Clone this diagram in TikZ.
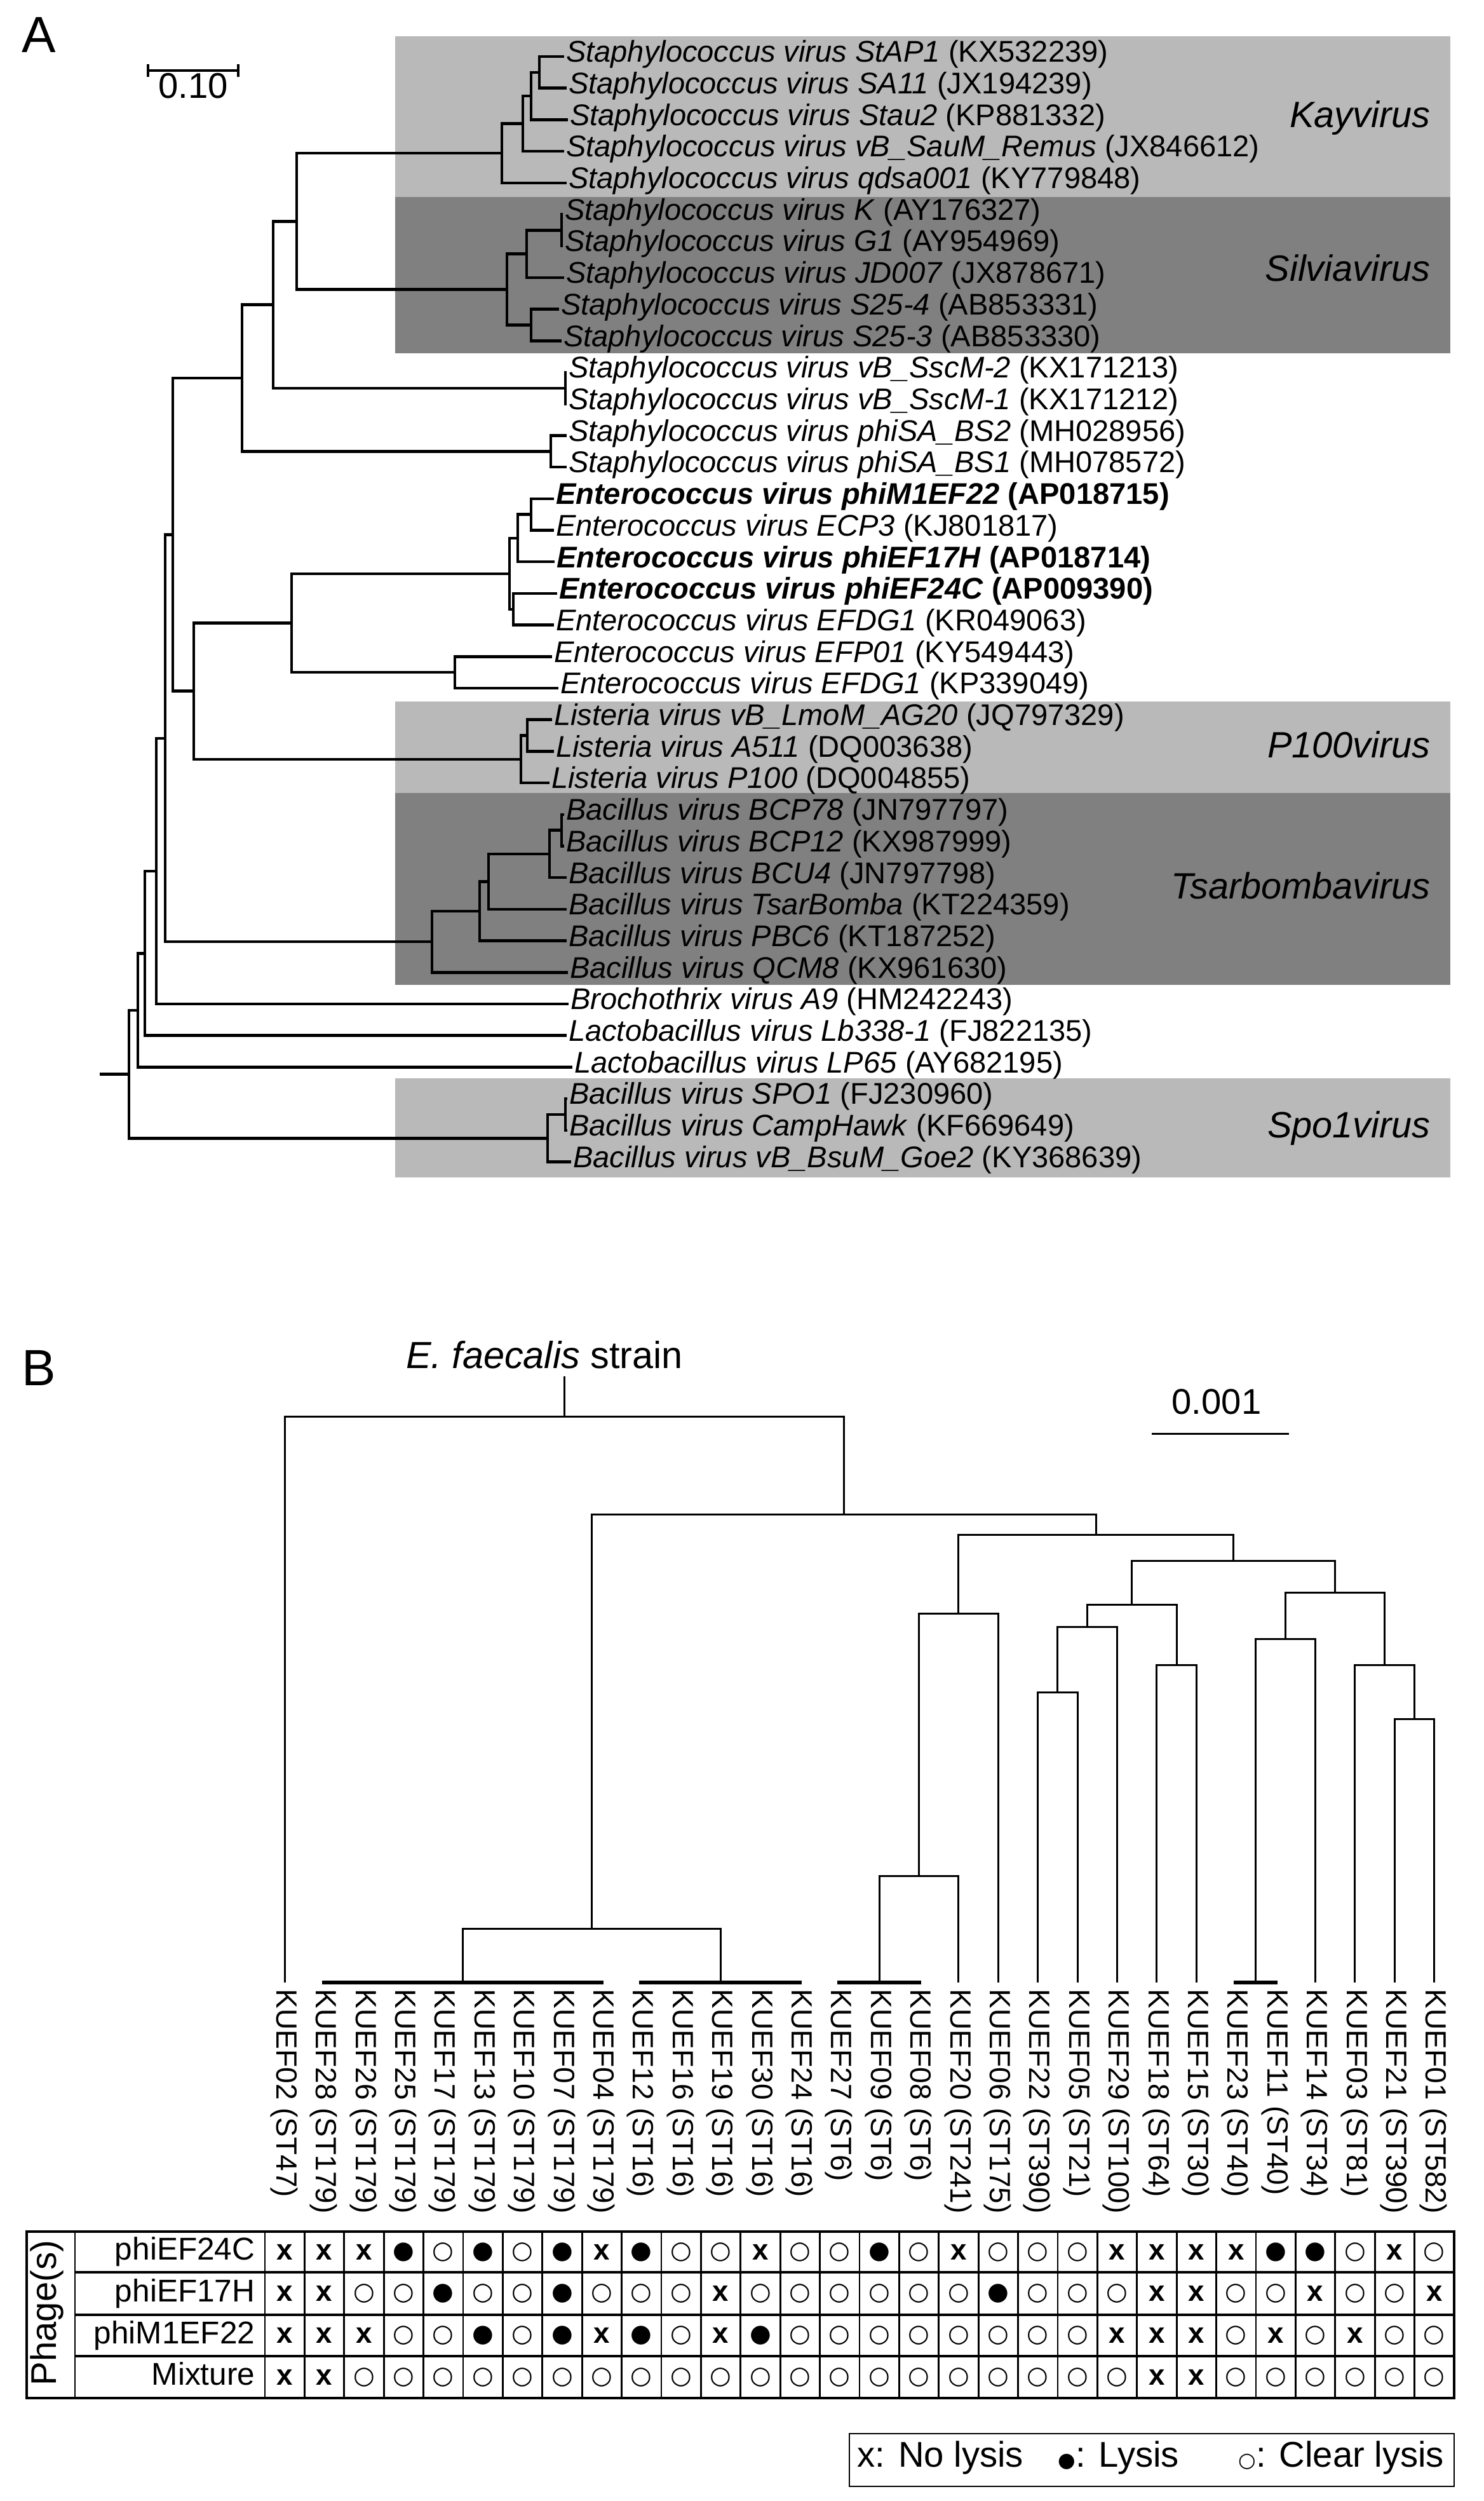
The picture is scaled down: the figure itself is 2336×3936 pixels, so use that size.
\documentclass[tikz,border=0pt]{standalone}
\usepackage{fontspec}
\setmainfont{Liberation Sans}
\newfontfamily\symfont{DejaVu Sans}
\usetikzlibrary{calc}
\definecolor{boxlight}{RGB}{185,185,185}
\definecolor{boxdark}{RGB}{128,128,128}

\begin{document}
\begin{tikzpicture}[x=0.1mm, y=-0.1mm,
    branch/.style={line width=0.45mm},
    bbranch/.style={line width=0.3mm},
    cladebar/.style={line width=0.65mm, line cap=rect},
    leaf/.style={anchor=west, inner sep=0.3mm, outer sep=0pt, text height=0.75em, text depth=0.25em, font=\fontsize{13.4}{16}\selectfont},
    bleaf/.style={rotate=-90, anchor=west, inner xsep=1mm, inner ysep=0pt, text height=0.72em, text depth=0pt, font=\fontsize{13.1}{15}\selectfont},
    clade/.style={anchor=east, inner sep=0pt, text height=0.72em, text depth=0pt, font=\fontsize{16.4}{19}\selectfont\itshape},
    panel/.style={inner sep=0pt, text height=0.72em, text depth=0pt, font=\fontsize{22.8}{26}\selectfont},
    scalelab/.style={inner sep=0pt, text height=0.72em, text depth=0pt, font=\fontsize{16}{19}\selectfont},
    rowlab/.style={anchor=east, inner sep=0pt, text height=0.72em, text depth=0pt, font=\fontsize{14.1}{17}\selectfont},
    lysiscell/.style={inner sep=0pt, font=\fontsize{13}{15}\selectfont},
    tabthick/.style={line width=0.42mm},
    tabline/.style={line width=0.28mm},
    legtext/.style={anchor=west, inner sep=0pt, text height=0.72em, text depth=0pt, font=\fontsize{16}{19}\selectfont}]
    \useasboundingbox (0,0) rectangle (2336,3936);

    % ---- A: clade boxes ----
    \fill[boxlight] (622,57) rectangle (2283,310);
    \fill[boxdark] (622,310) rectangle (2283,556);
    \fill[boxlight] (622,1104) rectangle (2283,1248);
    \fill[boxdark] (622,1248) rectangle (2283,1550);
    \fill[boxlight] (622,1697) rectangle (2283,1853);
    \node[clade] (kayv) at (2252,188) {Kayvirus};
    \node[clade] (silv) at (2252,430) {Silviavirus};
    \node[clade] (p100v) at (2252,1180) {P100virus};
    \node[clade] (tsarv) at (2252,1402) {Tsarbombavirus};
    \node[clade] (spov) at (2252,1778) {Spo1virus};

    \node[panel] (pA) at (61,70) {A};
    \coordinate (sa1) at (233,111);
    \coordinate (sa2) at (375,111);
    \draw[branch] (sa1) -- (sa2);
    \draw[branch] ($(sa1)+(0,-10)$) -- ($(sa1)+(0,10)$);
    \draw[branch] ($(sa2)+(0,-10)$) -- ($(sa2)+(0,10)$);
    \node[scalelab] (saLab) at (304,142) {0.10};

    % ---- A: leaves ----
    \node[leaf] (a1) at (888,89) {\textit{Staphylococcus virus StAP1} (KX532239)};
    \node[leaf] (a2) at (892,138.7) {\textit{Staphylococcus virus SA11} (JX194239)};
    \node[leaf] (a3) at (894,188.4) {\textit{Staphylococcus virus Stau2} (KP881332)};
    \node[leaf] (a4) at (888,238.1) {\textit{Staphylococcus virus vB\_SauM\_Remus} (JX846612)};
    \node[leaf] (a5) at (892,287.8) {\textit{Staphylococcus virus qdsa001} (KY779848)};
    \node[leaf] (a6) at (886,337.5) {\textit{Staphylococcus virus K} (AY176327)};
    \node[leaf] (a7) at (886,387.2) {\textit{Staphylococcus virus G1} (AY954969)};
    \node[leaf] (a8) at (888,436.9) {\textit{Staphylococcus virus JD007} (JX878671)};
    \node[leaf] (a9) at (880,486.6) {\textit{Staphylococcus virus S25-4} (AB853331)};
    \node[leaf] (a10) at (884,536.3) {\textit{Staphylococcus virus S25-3} (AB853330)};
    \node[leaf] (a11) at (892,586) {\textit{Staphylococcus virus vB\_SscM-2} (KX171213)};
    \node[leaf] (a12) at (892,635.7) {\textit{Staphylococcus virus vB\_SscM-1} (KX171212)};
    \node[leaf] (a13) at (892,685.4) {\textit{Staphylococcus virus phiSA\_BS2} (MH028956)};
    \node[leaf] (a14) at (892,735.1) {\textit{Staphylococcus virus phiSA\_BS1} (MH078572)};
    \node[leaf] (a15) at (872,784.8) {\textbf{\textit{Enterococcus virus phiM1EF22} (AP018715)}};
    \node[leaf] (a16) at (872,834.5) {\textit{Enterococcus virus ECP3} (KJ801817)};
    \node[leaf] (a17) at (873,884.2) {\textbf{\textit{Enterococcus virus phiEF17H} (AP018714)}};
    \node[leaf] (a18) at (877,933.9) {\textbf{\textit{Enterococcus virus phiEF24C} (AP009390)}};
    \node[leaf] (a19) at (872,983.6) {\textit{Enterococcus virus EFDG1} (KR049063)};
    \node[leaf] (a20) at (869,1033.3) {\textit{Enterococcus virus EFP01} (KY549443)};
    \node[leaf] (a21) at (879,1083) {\textit{Enterococcus virus EFDG1} (KP339049)};
    \node[leaf] (a22) at (869,1132.7) {\textit{Listeria virus vB\_LmoM\_AG20} (JQ797329)};
    \node[leaf] (a23) at (872,1182.4) {\textit{Listeria virus A511} (DQ003638)};
    \node[leaf] (a24) at (865,1232.1) {\textit{Listeria virus P100} (DQ004855)};
    \node[leaf] (a25) at (888,1281.8) {\textit{Bacillus virus BCP78} (JN797797)};
    \node[leaf] (a26) at (888,1331.5) {\textit{Bacillus virus BCP12} (KX987999)};
    \node[leaf] (a27) at (892,1381.2) {\textit{Bacillus virus BCU4} (JN797798)};
    \node[leaf] (a28) at (892,1430.9) {\textit{Bacillus virus TsarBomba} (KT224359)};
    \node[leaf] (a29) at (892,1480.6) {\textit{Bacillus virus PBC6} (KT187252)};
    \node[leaf] (a30) at (894,1530.3) {\textit{Bacillus virus QCM8} (KX961630)};
    \node[leaf] (a31) at (895,1580) {\textit{Brochothrix virus A9} (HM242243)};
    \node[leaf] (a32) at (892,1629.7) {\textit{Lactobacillus virus Lb338-1} (FJ822135)};
    \node[leaf] (a33) at (901,1679.4) {\textit{Lactobacillus virus LP65} (AY682195)};
    \node[leaf] (a34) at (893,1729.1) {\textit{Bacillus virus SPO1} (FJ230960)};
    \node[leaf] (a35) at (893,1778.8) {\textit{Bacillus virus CampHawk} (KF669649)};
    \node[leaf] (a36) at (899,1828.5) {\textit{Bacillus virus vB\_BsuM\_Goe2} (KY368639)};

    % ---- A: inner nodes ----
    \coordinate (k12) at (849,113.9);
    \coordinate (k123) at (836,151.2);
    \coordinate (k1234) at (823,194.6);
    \coordinate (kay) at (790,241.2);
    \coordinate (s12) at (884,362.4);
    \coordinate (s123) at (829,399.6);
    \coordinate (s45) at (836,511.5);
    \coordinate (silvn) at (798,455.6);
    \coordinate (ks) at (467,348.4);
    \coordinate (ssc) at (890,610.9);
    \coordinate (kss) at (430,479.6);
    \coordinate (bs) at (867,710.3);
    \coordinate (staph) at (381,595);
    \coordinate (e12) at (836,809.7);
    \coordinate (e123) at (815,847);
    \coordinate (e45) at (808,958.8);
    \coordinate (ecore) at (802,902.9);
    \coordinate (efp) at (716,1058.2);
    \coordinate (ent) at (459,980.5);
    \coordinate (l12) at (830,1157.6);
    \coordinate (lis) at (820,1194.9);
    \coordinate (el) at (305,1087.7);
    \coordinate (n1) at (272,841.4);
    \coordinate (t12) at (884,1306.7);
    \coordinate (t123) at (865,1344);
    \coordinate (t1234) at (769,1387.5);
    \coordinate (t5) at (755,1434);
    \coordinate (tsar) at (680,1482.2);
    \coordinate (n2) at (260,1161.8);
    \coordinate (n3) at (246,1370.9);
    \coordinate (n4) at (228,1500.3);
    \coordinate (n5) at (217,1589.9);
    \coordinate (p12) at (890,1754);
    \coordinate (spo) at (862,1791.3);
    \coordinate (rootA) at (203,1690.6);
    \coordinate (stubA) at (157,1690.6);

    % ---- A: branches ----
    \draw[branch] (k12) |- (a1.west) (k12) |- (a2.west);
    \draw[branch] (k123) |- (k12) (k123) |- (a3.west);
    \draw[branch] (k1234) |- (k123) (k1234) |- (a4.west);
    \draw[branch] (kay) |- (k1234) (kay) |- (a5.west);
    \draw[branch] (s12) |- (a6.west) (s12) |- (a7.west);
    \draw[branch] (s123) |- (s12) (s123) |- (a8.west);
    \draw[branch] (s45) |- (a9.west) (s45) |- (a10.west);
    \draw[branch] (silvn) |- (s123) (silvn) |- (s45);
    \draw[branch] (ks) |- (kay) (ks) |- (silvn);
    \draw[branch] (ssc) |- (a11.west) (ssc) |- (a12.west);
    \draw[branch] (kss) |- (ks) (kss) |- (ssc);
    \draw[branch] (bs) |- (a13.west) (bs) |- (a14.west);
    \draw[branch] (staph) |- (kss) (staph) |- (bs);
    \draw[branch] (e12) |- (a15.west) (e12) |- (a16.west);
    \draw[branch] (e123) |- (e12) (e123) |- (a17.west);
    \draw[branch] (e45) |- (a18.west) (e45) |- (a19.west);
    \draw[branch] (ecore) |- (e123) (ecore) |- (e45);
    \draw[branch] (efp) |- (a20.west) (efp) |- (a21.west);
    \draw[branch] (ent) |- (ecore) (ent) |- (efp);
    \draw[branch] (l12) |- (a22.west) (l12) |- (a23.west);
    \draw[branch] (lis) |- (l12) (lis) |- (a24.west);
    \draw[branch] (el) |- (ent) (el) |- (lis);
    \draw[branch] (n1) |- (staph) (n1) |- (el);
    \draw[branch] (t12) |- (a25.west) (t12) |- (a26.west);
    \draw[branch] (t123) |- (t12) (t123) |- (a27.west);
    \draw[branch] (t1234) |- (t123) (t1234) |- (a28.west);
    \draw[branch] (t5) |- (t1234) (t5) |- (a29.west);
    \draw[branch] (tsar) |- (t5) (tsar) |- (a30.west);
    \draw[branch] (n2) |- (n1) (n2) |- (tsar);
    \draw[branch] (n3) |- (n2) (n3) |- (a31.west);
    \draw[branch] (n4) |- (n3) (n4) |- (a32.west);
    \draw[branch] (n5) |- (n4) (n5) |- (a33.west);
    \draw[branch] (p12) |- (a34.west) (p12) |- (a35.west);
    \draw[branch] (spo) |- (p12) (spo) |- (a36.west);
    \draw[branch] (rootA) |- (n5) (rootA) |- (spo);
    \draw[branch] (stubA) -- (rootA);

    % ---- B: strain tree ----
    \node[panel] (pB) at (61,2168) {B};
    \node[inner xsep=0pt, inner ysep=1.2mm, anchor=south, text depth=0pt, font=\fontsize{16.9}{20}\selectfont] (ef) at (857,2166) {\textit{E. faecalis} strain};
    \coordinate (sb1) at (1813,2256);
    \coordinate (sb2) at (2029,2256);
    \draw[bbranch] (sb1) -- (sb2);
    \node[scalelab] (sbLab) at (1915,2213) {0.001};

    \foreach \lab [count=\i] in {KUEF02 (ST47), KUEF28 (ST179), KUEF26 (ST179), KUEF25 (ST179),
        KUEF17 (ST179), KUEF13 (ST179), KUEF10 (ST179), KUEF07 (ST179), KUEF04 (ST179),
        KUEF12 (ST16), KUEF16 (ST16), KUEF19 (ST16), KUEF30 (ST16), KUEF24 (ST16),
        KUEF27 (ST6), KUEF09 (ST6), KUEF08 (ST6), KUEF20 (ST241), KUEF06 (ST175),
        KUEF22 (ST390), KUEF05 (ST21), KUEF29 (ST100), KUEF18 (ST64), KUEF15 (ST30),
        KUEF23 (ST40), KUEF11 (ST40), KUEF14 (ST34), KUEF03 (ST81), KUEF21 (ST390), KUEF01 (ST582)}
        \node[bleaf] (k\i) at ({448+62.4*(\i-1)},3120) {\lab};

    \draw[cladebar] (k2.west) -- (k9.west);
    \draw[cladebar] (k10.west) -- (k14.west);
    \draw[cladebar] (k15.west) -- (k17.west);
    \draw[cladebar] (k25.west) -- (k26.west);
    \coordinate (c179) at ($(k2.west)!.5!(k9.west)$);
    \coordinate (c16) at ($(k10.west)!.5!(k14.west)$);
    \coordinate (c6) at ($(k15.west)!.5!(k17.west)$);
    \coordinate (c40) at ($(k25.west)!.5!(k26.west)$);

    \coordinate (b0) at (888.2,2229);
    \coordinate (b1) at (931.6,3035);
    \coordinate (b2) at (1446.4,2952);
    \coordinate (b3) at (1508.8,2539);
    \coordinate (b4) at (1664.8,2663);
    \coordinate (b5) at (1711.6,2560);
    \coordinate (b6) at (1852,2620);
    \coordinate (b7) at (1781.8,2525);
    \coordinate (b8) at (2023.6,2579);
    \coordinate (b9) at (2226.4,2705);
    \coordinate (b10) at (2179.6,2620);
    \coordinate (b11) at (2101.6,2506);
    \coordinate (b12) at (1941.7,2456);
    \coordinate (b13) at (1725.3,2415);
    \coordinate (b14) at (1328.4,2383);

    \draw[bbranch] (b0) -- (b0 |- ef.south);
    \draw[bbranch] (b0) -| (k1.west) (b0) -| (b14);
    \draw[bbranch] (b14) -| (b1) (b14) -| (b13);
    \draw[bbranch] (b1) -| (c179) (b1) -| (c16);
    \draw[bbranch] (b13) -| (b3) (b13) -| (b12);
    \draw[bbranch] (b3) -| (b2) (b3) -| (k19.west);
    \draw[bbranch] (b2) -| (c6) (b2) -| (k18.west);
    \draw[bbranch] (b12) -| (b7) (b12) -| (b11);
    \draw[bbranch] (b7) -| (b5) (b7) -| (b6);
    \draw[bbranch] (b5) -| (b4) (b5) -| (k22.west);
    \draw[bbranch] (b4) -| (k20.west) (b4) -| (k21.west);
    \draw[bbranch] (b6) -| (k23.west) (b6) -| (k24.west);
    \draw[bbranch] (b11) -| (b8) (b11) -| (b10);
    \draw[bbranch] (b8) -| (c40) (b8) -| (k27.west);
    \draw[bbranch] (b10) -| (k28.west) (b10) -| (b9);
    \draw[bbranch] (b9) -| (k29.west) (b9) -| (k30.west);

    % ---- B: lysis table ----
    \def\cw{62.4}
    \def\X{\textbf{x}}
    \def\L{{\symfont\fontsize{11}{13}\selectfont ●}}
    \def\C{{\symfont\fontsize{11}{13}\selectfont ○}}
    \def\rowa{\X,\X,\X,\L,\C,\L,\C,\L,\X,\L,\C,\C,\X,\C,\C,\L,\C,\X,\C,\C,\C,\X,\X,\X,\X,\L,\L,\C,\X,\C}
    \def\rowb{\X,\X,\C,\C,\L,\C,\C,\L,\C,\C,\C,\X,\C,\C,\C,\C,\C,\C,\L,\C,\C,\C,\X,\X,\C,\C,\X,\C,\C,\X}
    \def\rowc{\X,\X,\X,\C,\C,\L,\C,\L,\X,\L,\C,\X,\L,\C,\C,\C,\C,\C,\C,\C,\C,\X,\X,\X,\C,\X,\C,\X,\C,\C}
    \def\rowd{\X,\X,\C,\C,\C,\C,\C,\C,\C,\C,\C,\C,\C,\C,\C,\C,\C,\C,\C,\C,\C,\C,\X,\X,\C,\C,\C,\C,\C,\C}

    \draw[tabthick] (42,3512) rectangle (2289,3774);
    \draw[tabline] (118,3512) -- (118,3774);
    \draw[tabline] (417,3512) -- (417,3774);
    \foreach \k in {1,...,29}
        \draw[tabline] ({417+\cw*\k},3512) -- ({417+\cw*\k},3774);
    \foreach \yy in {3576,3643,3708}
        \draw[tabthick] (118,\yy) -- (2289,\yy);

    \node[rotate=90, inner sep=0pt, text height=0.72em, text depth=0pt, font=\fontsize{16}{19}\selectfont] (phg) at (76,3640) {Phage(s)};
    \node[rowlab] (ra) at (402,3544) {phiEF24C};
    \node[rowlab] (rb) at (402,3609.5) {phiEF17H};
    \node[rowlab] (rc) at (402,3675.5) {phiM1EF22};
    \node[rowlab] (rd) at (402,3741) {Mixture};
    \foreach \s [count=\i] in \rowa
        \node[lysiscell] (ca\i) at ({417+\cw*(\i-0.5)},3544) {\s};
    \foreach \s [count=\i] in \rowb
        \node[lysiscell] (cb\i) at ({417+\cw*(\i-0.5)},3609.5) {\s};
    \foreach \s [count=\i] in \rowc
        \node[lysiscell] (cc\i) at ({417+\cw*(\i-0.5)},3675.5) {\s};
    \foreach \s [count=\i] in \rowd
        \node[lysiscell] (cd\i) at ({417+\cw*(\i-0.5)},3741) {\s};

    % ---- legend ----
    \draw[tabline] (1337,3830) rectangle (2289,3913);
    \node[legtext] (lg1) at (1349,3870) {x: No lysis};
    \node[legtext] (lg2) at (1665,3870) {{\symfont\fontsize{9}{11}\selectfont ●}: Lysis};
    \node[legtext] (lg3) at (1949,3870) {{\symfont\fontsize{9}{11}\selectfont ○}: Clear lysis};
\end{tikzpicture}
\end{document}
